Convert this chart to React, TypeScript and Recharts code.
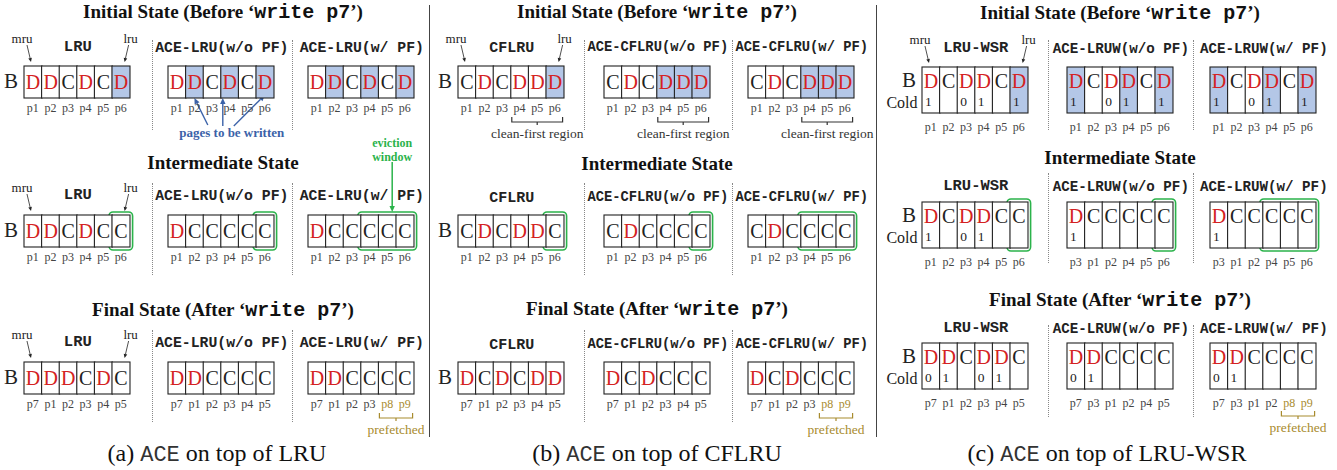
import React from "react";
import { BarChart, Bar, XAxis, YAxis, ReferenceArea } from "recharts";

const SERIF = '"Liberation Serif", "DejaVu Serif", serif';
const MONO = '"Liberation Mono", "DejaVu Sans Mono", monospace';

const RED = "#d42222";
const SHADE = "#b4c7e7";
const GREEN = "#2bb34b";
const GOLD = "#a88b2e";
const INK_BLUE = "#3b62a8";
const INK = "#222";

// page order under each strip (tick labels)
const P1_6 = ["p1", "p2", "p3", "p4", "p5", "p6"];
const P7_5 = ["p7", "p1", "p2", "p3", "p4", "p5"];
const P7_PF = ["p7", "p1", "p2", "p3", "p8", "p9"];
const P3_6 = ["p3", "p1", "p2", "p4", "p5", "p6"];
const P73_5 = ["p7", "p3", "p1", "p2", "p4", "p5"];
const P73_PF = ["p7", "p3", "p1", "p2", "p8", "p9"];
const PREFETCHED = ["p8", "p9"];

const STATE_TITLES = ["Initial State (Before ", "Intermediate State", "Final State (After "];

// (a) LRU
const LRU_VARIANTS = ["LRU", "ACE-LRU(w/o PF)", "ACE-LRU(w/ PF)"];
const LRU_PAGES = [[P1_6, P1_6, P1_6], [P1_6, P1_6, P1_6], [P7_5, P7_5, P7_PF]];
const LRU_STATES = [
  ["DDCDCD", "DDCDCD", "DDCDCD"],
  ["DDCDCC", "DCCCCC", "DCCCCC"],
  ["DDDCDC", "DDCCCC", "DDCCCC"],
];
const LRU_WRITTEN = ["000001", "010101", "010101"];

// (b) CFLRU
const CFLRU_VARIANTS = ["CFLRU", "ACE-CFLRU(w/o PF)", "ACE-CFLRU(w/ PF)"];
const CFLRU_PAGES = [[P1_6, P1_6, P1_6], [P1_6, P1_6, P1_6], [P7_5, P7_5, P7_PF]];
const CFLRU_STATES = [
  ["CDCDDD", "CDCDDD", "CDCDDD"],
  ["CDCDDC", "CDCCCC", "CDCCCC"],
  ["DCDCDD", "DCDCCC", "DCDCCC"],
];
const CFLRU_WRITTEN = ["000001", "000111", "000111"];

// (c) LRU-WSR
const WSR_VARIANTS = ["LRU-WSR", "ACE-LRUW(w/o PF)", "ACE-LRUW(w/ PF)"];
const WSR_PAGES = [[P1_6, P1_6, P1_6], [P1_6, P3_6, P3_6], [P7_5, P73_5, P73_PF]];
const WSR_STATES = [
  ["DCDDCD", "DCDDCD", "DCDDCD"],
  ["DCDDCC", "DCCCCC", "DCCCCC"],
  ["DDCDDC", "DDCCCC", "DDCCCC"],
];
const WSR_COLD = [
  ["1-01-1", "1-01-1", "1-01-1"],
  ["1-01--", "1-----", "1-----"],
  ["01-01-", "01----", "01----"],
];
const WSR_WRITTEN = ["000001", "100101", "100101"];

// eviction window (intermediate state) per variant
const WINDOWS = [["p6", "p6"], ["p6", "p6"], ["p4", "p6"]];
const CLEAN_FIRST = ["p4", "p6"];

const CELL_W = 17.6;
const PAD_X = 50;
const TOP_PAD = 90;
const AXIS_H = 24;
const BOT_PAD = 34;

const LAYOUT = [
  {
    tag: "(a) ", algo: " on top of LRU", variants: LRU_VARIANTS, pages: LRU_PAGES, states: LRU_STATES, written: LRU_WRITTEN, cold: null,
    groupX: [24, 168, 308], cellTop: [66, 215, 362], cellH: 32, labelY: [48, 196, 343], labelSize: [15.5, 14.8, 14.8],
    titleX: 223, titleY: [12, 162, 310], captionX: 217, sepX: [152, 292],
    sepY: [[40, 130], [183, 275], [330, 422]], bX: 11, pointerRows: [0, 1, 2], tickDy: 10, braceDy: 19,
  },
  {
    tag: "(b) ", algo: " on top of CFLRU", variants: CFLRU_VARIANTS, pages: CFLRU_PAGES, states: CFLRU_STATES, written: CFLRU_WRITTEN, cold: null,
    groupX: [458, 604, 748], cellTop: [66, 215, 362], cellH: 32, labelY: [48, 198, 345], labelSize: [15, 13.8, 13.8],
    titleX: 657, titleY: [12, 163, 309], captionX: 657, sepX: [584, 732],
    sepY: [[40, 130], [183, 275], [330, 422]], bX: 445, pointerRows: [0], tickDy: 10, braceDy: 19,
  },
  {
    tag: "(c) ", algo: " on top of LRU-WSR", variants: WSR_VARIANTS, pages: WSR_PAGES, states: WSR_STATES, written: WSR_WRITTEN, cold: WSR_COLD,
    groupX: [922, 1067, 1210], cellTop: [67, 202, 343], cellH: 46, labelY: [49, 187, 329], labelSize: [15.5, 14.2, 14.2],
    titleX: 1120, titleY: [13, 157, 300], captionX: 1107, sepX: [1048, 1193],
    sepY: [[40, 130], [173, 263], [325, 417]], bX: 909, pointerRows: [0], tickDy: 14, braceDy: 22,
  },
];

function arrow(x1: number, y1: number, x2: number, y2: number, color: string, w = 1, head = 5) {
  const a = Math.atan2(y2 - y1, x2 - x1);
  const bx = x2 - head * Math.cos(a);
  const by = y2 - head * Math.sin(a);
  const px = Math.sin(a) * head * 0.45;
  const py = -Math.cos(a) * head * 0.45;
  return (
    <g>
      <line x1={x1} y1={y1} x2={bx} y2={by} stroke={color} strokeWidth={w} />
      <polygon points={`${x2},${y2} ${bx + px},${by + py} ${bx - px},${by - py}`} fill={color} />
    </g>
  );
}

const CellShape = (props: any) => {
  const { x, y, width, height, payload } = props;
  const hasCold = payload.cold !== undefined;
  return (
    <g>
      <rect x={x} y={y} width={width} height={height} fill={payload.written ? SHADE : "#fff"} stroke={INK} strokeWidth={1.1} />
      <text
        x={x + width / 2}
        y={hasCold ? y + 14 : y + height / 2}
        textAnchor="middle"
        dominantBaseline="central"
        fontFamily={SERIF}
        fontSize={20}
        fill={payload.state === "D" ? RED : INK}
      >
        {payload.state}
      </text>
      {hasCold && payload.cold !== "" && (
        <text x={x + 3} y={y + 35} dominantBaseline="central" fontFamily={SERIF} fontSize={13.5} fill={INK}>
          {payload.cold}
        </text>
      )}
    </g>
  );
};

function Strip(props: {
  left: number; top: number; cellH: number; pages: string[]; states: string; written?: string; cold?: string;
  window?: string[]; evict?: boolean; pointers?: boolean; brace?: { from: string; to: string; text: string; color: string };
  toWrite?: boolean; tickDy: number; braceDy: number;
}) {
  const { left, top, cellH, pages, states, written, cold, window, evict, pointers, brace, toWrite, tickDy, braceDy } = props;
  const data = pages.map((p, i) => ({
    page: p,
    slot: 1,
    state: states[i],
    written: written ? written[i] === "1" : false,
    cold: cold ? (cold[i] === "-" ? "" : cold[i]) : undefined,
  }));
  const w = pages.length * CELL_W + PAD_X * 2;
  const h = TOP_PAD + cellH + AXIS_H + BOT_PAD;
  return (
    <div style={{ position: "absolute", left: left - PAD_X, top: top - TOP_PAD }}>
      <BarChart width={w} height={h} data={data} margin={{ top: TOP_PAD, right: PAD_X, bottom: BOT_PAD, left: PAD_X }} barCategoryGap={0} barGap={0}>
        <XAxis
          dataKey="page"
          interval={0}
          height={AXIS_H}
          axisLine={false}
          tickLine={false}
          tickSize={0}
          tickMargin={0}
          tick={(t: any) => (
            <text x={t.x} y={t.y + tickDy} textAnchor="middle" dominantBaseline="central" fontFamily={SERIF} fontSize={12}
              fill={PREFETCHED.includes(t.payload.value) ? GOLD : "#444"}>
              {t.payload.value}
            </text>
          )}
        />
        <YAxis hide type="number" domain={[0, 1]} />
        <Bar dataKey="slot" isAnimationActive={false} shape={CellShape} />
        {window && (
          <ReferenceArea x1={window[0]} x2={window[1]} y1={0} y2={1} ifOverflow="visible"
            shape={(s: any) => (
              <g>
                <rect x={s.x - 3} y={s.y - 3} width={s.width + 6} height={s.height + 6} rx={4} fill="none" stroke={GREEN} strokeWidth={1.6} />
                {evict && (
                  <g>
                    {arrow(s.x + s.width / 2 + 5, s.y - 53, s.x + s.width / 2 + 5, s.y - 3, GREEN, 1.5, 6)}
                    <text x={s.x + s.width / 2 + 5} y={s.y - 72} textAnchor="middle" dominantBaseline="central" fontFamily={SERIF} fontWeight={700} fontSize={12} fill={GREEN}>eviction</text>
                    <text x={s.x + s.width / 2 + 5} y={s.y - 58} textAnchor="middle" dominantBaseline="central" fontFamily={SERIF} fontWeight={700} fontSize={12} fill={GREEN}>window</text>
                  </g>
                )}
              </g>
            )}
          />
        )}
        {pointers && (
          <ReferenceArea x1={pages[0]} x2={pages[pages.length - 1]} y1={0} y2={1} ifOverflow="visible"
            shape={(s: any) => (
              <g fontFamily={SERIF} fontSize={13} fill={INK}>
                <text x={s.x - 2} y={s.y - 27} textAnchor="middle" dominantBaseline="central">mru</text>
                {arrow(s.x + 3, s.y - 21, s.x + 7, s.y - 4, INK, 0.8, 4)}
                <text x={s.x + s.width + 1} y={s.y - 27} textAnchor="middle" dominantBaseline="central">lru</text>
                {arrow(s.x + s.width - 1, s.y - 21, s.x + s.width - 5, s.y - 4, INK, 0.8, 4)}
              </g>
            )}
          />
        )}
        {brace && (
          <ReferenceArea x1={brace.from} x2={brace.to} y1={0} y2={1} ifOverflow="visible"
            shape={(s: any) => {
              const b = s.y + s.height + braceDy;
              const cx = s.x + s.width / 2;
              return (
                <g>
                  <path d={`M${s.x + 1},${b} V${b + 5} H${s.x + s.width - 1} V${b} M${cx},${b + 5} V${b + 8}`} fill="none" stroke={brace.color} strokeWidth={1.2} />
                  <text x={cx} y={b + 17} textAnchor="middle" dominantBaseline="central" fontFamily={SERIF} fontSize={13.5} fill={brace.color}>{brace.text}</text>
                </g>
              );
            }}
          />
        )}
        {toWrite && (
          <ReferenceArea x1={pages[0]} x2={pages[pages.length - 1]} y1={0} y2={1} ifOverflow="visible"
            shape={(s: any) => {
              const cw = s.width / 6;
              const b = s.y + s.height;
              const xc = s.x + s.width / 2 + 11;
              return (
                <g>
                  {arrow(xc - 24, b + 27, s.x + 1.5 * cw, b, INK_BLUE, 1.4, 6)}
                  {arrow(s.x + 3 * cw + 2, b + 28, s.x + 3 * cw + 2, b, INK_BLUE, 1.4, 6)}
                  {arrow(xc + 2, b + 28, s.x + 5.5 * cw, b - 3, INK_BLUE, 1.4, 6)}
                  <text x={xc} y={b + 35} textAnchor="middle" dominantBaseline="central" fontFamily={SERIF} fontWeight={700} fontSize={13} fill={INK_BLUE}>
                    pages to be written
                  </text>
                </g>
              );
            }}
          />
        )}
      </BarChart>
    </div>
  );
}

const abs = (x: number, y: number, style: React.CSSProperties = {}): React.CSSProperties => ({
  position: "absolute",
  left: x,
  top: y,
  transform: "translate(-50%, -50%)",
  whiteSpace: "nowrap",
  lineHeight: 1,
  ...style,
});

function Title({ x, y, row }: { x: number; y: number; row: number }) {
  return (
    <div style={abs(x, y, { fontFamily: SERIF, fontWeight: 700, fontSize: 19, color: "#111" })}>
      {STATE_TITLES[row]}
      {row !== 1 && (
        <>
          ‘<span style={{ fontFamily: MONO, fontSize: 20 }}>write p7</span>’)
        </>
      )}
    </div>
  );
}

export default function App() {
  return (
    <div style={{ position: "absolute", left: 0, top: 0, width: 1337, height: 470, background: "#fff", overflow: "hidden" }}>
      {[429, 876].map((x) => (
        <div key={x} style={{ position: "absolute", left: x, top: 5, height: 432, borderLeft: "1.5px solid #444" }} />
      ))}
      {LAYOUT.map((L, pi) => (
        <React.Fragment key={pi}>
          {[0, 1, 2].map((row) => (
            <React.Fragment key={row}>
              <Title x={L.titleX} y={L.titleY[row]} row={row} />
              {L.sepX.map((sx) => (
                <div key={sx} style={{ position: "absolute", left: sx, top: L.sepY[row][0], height: L.sepY[row][1] - L.sepY[row][0], borderLeft: "1.2px dotted #888" }} />
              ))}
              <div style={abs(L.bX, L.cellTop[row] + (L.cold ? 13 : L.cellH / 2 - 1), { fontFamily: SERIF, fontSize: 21, color: INK })}>B</div>
              {L.cold && (
                <div style={abs(L.bX - 7, L.cellTop[row] + 36, { fontFamily: SERIF, fontSize: 16, color: INK })}>Cold</div>
              )}
              {[0, 1, 2].map((v) => {
                const gx = L.groupX[v];
                const cx = gx + (CELL_W * 6) / 2;
                const pages = L.pages[row][v];
                const hasBrace = (pi === 1 && row === 0) || (row === 2 && v === 2);
                return (
                  <React.Fragment key={v}>
                    <div style={abs(cx + 1, L.labelY[row], { fontFamily: MONO, fontWeight: 700, fontSize: L.labelSize[v], color: INK })}>
                      {L.variants[v]}
                    </div>
                    <Strip
                      left={gx}
                      top={L.cellTop[row]}
                      cellH={L.cellH}
                      pages={pages}
                      states={L.states[row][v]}
                      written={row === 0 ? L.written[v] : undefined}
                      cold={L.cold ? L.cold[row][v] : undefined}
                      window={row === 1 ? WINDOWS[v] : undefined}
                      evict={pi === 0 && row === 1 && v === 2}
                      pointers={v === 0 && L.pointerRows.includes(row)}
                      toWrite={pi === 0 && row === 0 && v === 1}
                      brace={
                        hasBrace
                          ? row === 0
                            ? { from: CLEAN_FIRST[0], to: CLEAN_FIRST[1], text: "clean-first region", color: "#333" }
                            : { from: PREFETCHED[0], to: PREFETCHED[1], text: "prefetched", color: GOLD }
                          : undefined
                      }
                      tickDy={L.tickDy}
                      braceDy={L.braceDy}
                    />
                  </React.Fragment>
                );
              })}
            </React.Fragment>
          ))}
          <div style={abs(L.captionX, 454, { fontFamily: SERIF, fontSize: 24, color: "#111" })}>
            {L.tag}
            <span style={{ fontFamily: MONO, fontSize: 22, color: "#333" }}>ACE</span>
            {L.algo}
          </div>
        </React.Fragment>
      ))}
    </div>
  );
}
